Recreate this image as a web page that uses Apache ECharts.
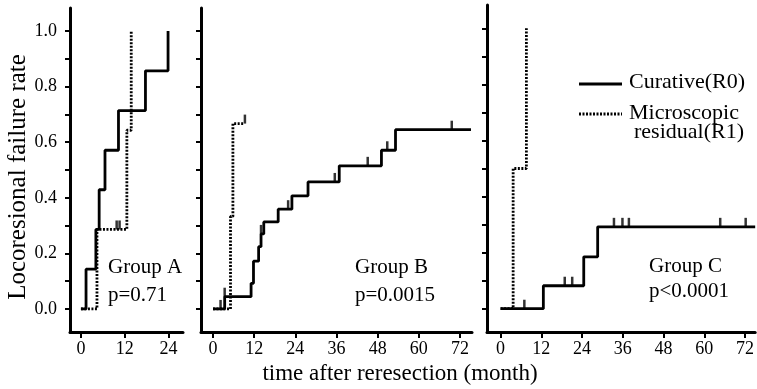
<!DOCTYPE html>
<html>
<head>
<meta charset="utf-8">
<script src="https://cdn.jsdelivr.net/npm/echarts@6/dist/echarts.min.js"></script>
<style>html,body{margin:0;padding:0;background:#fff}#c{width:757px;height:389px}</style>
</head>
<body>
<div id="c"></div>
<script>
// ---- data (months, failure rate) ----
const yTicks = [0, 0.1, 0.2, 0.3, 0.4, 0.5, 0.6, 0.7, 0.8, 0.9, 1.0];
const yLabels = [0, 0.2, 0.4, 0.6, 0.8, 1.0];
const xTicksA = [0, 12, 24];
const xTicksBC = [0, 12, 24, 36, 48, 60, 72];

// Group A
const aSolidT = [0, 1.4, 4.1, 5.0, 6.6, 10.3, 17.7, 23.9];
const aSolidV = [0, 0.143, 0.286, 0.429, 0.571, 0.714, 0.857, 1.0];
const aDotT = [0, 4.4, 12.6, 13.8];
const aDotV = [0, 0.286, 0.643, 1.0];
const aDotCensT = [9.8, 10.6];
const aDotCensV = [0.286, 0.286];

// Group B
const bSolidT = [0, 3.4, 11.1, 11.8, 13.3, 14.0, 14.8, 19.0, 23.0, 27.7, 36.8, 49.1, 53.2, 75.2];
const bSolidV = [0, 0.044, 0.092, 0.172, 0.224, 0.27, 0.313, 0.359, 0.407, 0.457, 0.515, 0.571, 0.645, 0.645];
const bSolidCensT = [2.2, 3.4, 14.0, 21.9, 35.5, 45.1, 50.8, 69.6];
const bSolidCensV = [0, 0.044, 0.27, 0.359, 0.457, 0.515, 0.571, 0.645];
const bDotT = [0, 5.1, 5.8, 8.8];
const bDotV = [0, 0.333, 0.667, 0.667];
const bDotCensT = [9.3];
const bDotCensV = [0.667];

// Group C
const cSolidT = [0, 12.6, 24.5, 28.6, 75];
const cSolidV = [0, 0.082, 0.185, 0.292, 0.292];
const cSolidCensT = [7.0, 18.9, 21.1, 33.4, 35.9, 37.8, 64.7, 72.2];
const cSolidCensV = [0, 0.082, 0.082, 0.292, 0.292, 0.292, 0.292, 0.292];
const cDotT = [0, 3.7, 7.6];
const cDotV = [0, 0.5, 1.0];

const groupText = [
  ['Group A', 'p=0.71'],
  ['Group B', 'p=0.0015'],
  ['Group C', 'p<0.0001']
];
const legendNames = ['Curative(R0)', 'Microscopic', 'residual(R1)'];
const xTitle = 'time after reresection (month)';
const yTitle = 'Locoresional failure rate';

// ---- chart ----
const FF = '"Liberation Serif", "Times New Roman", serif';
const zip = (t, v) => t.map((x, i) => [x, v[i]]);
const DOT = [2, 1.5];
const LW = 2.8;

function xAxis(idx, min, max, ticks) {
  return {
    type: 'value', gridIndex: idx, min: min, max: max,
    axisLine: {onZero: false, lineStyle: {color: '#000', width: 3}},
    axisTick: {customValues: ticks, length: 6, lineStyle: {color: '#000', width: 2}},
    axisLabel: {customValues: ticks, color: '#000', fontFamily: FF, fontSize: 18, margin: 8},
    splitLine: {show: false}
  };
}
function yAxis(idx, showLabel) {
  const a = {
    type: 'value', gridIndex: idx, min: -0.083, max: 1.083,
    axisLine: {onZero: false, lineStyle: {color: '#000', width: 3}},
    axisTick: {customValues: yTicks, length: 5, lineStyle: {color: '#000', width: 2}},
    axisLabel: {show: showLabel, customValues: yLabels, color: '#000', fontFamily: FF, fontSize: 18, margin: 13,
      formatter: v => v.toFixed(1)},
    splitLine: {show: false}
  };
  if (showLabel) {
    a.name = yTitle;
    a.nameLocation = 'middle';
    a.nameGap = 32;
    a.nameTextStyle = {color: '#000', fontFamily: FF, fontSize: 25, padding: [0, 14, 0, 0]};
  }
  return a;
}
function lineS(idx, t, v, dotted) {
  return {
    type: 'line', xAxisIndex: idx, yAxisIndex: idx, step: 'end', showSymbol: false, symbol: 'none',
    data: zip(t, v), silent: true, animation: false,
    lineStyle: {color: '#000', width: LW, type: dotted ? DOT : 'solid', cap: 'butt'}
  };
}
function censS(idx, t, v) {
  return {
    type: 'scatter', xAxisIndex: idx, yAxisIndex: idx, symbol: 'rect', symbolSize: [2.5, 9],
    symbolOffset: [0, -4.5], data: zip(t, v), itemStyle: {color: '#000'}, silent: true, animation: false
  };
}
function txt(x, y, s, size, align) {
  return {type: 'text', x: x, y: y, silent: true,
    style: {text: s, font: size + 'px ' + FF, fill: '#000', align: align || 'left', verticalAlign: 'middle'}};
}

const chart = echarts.init(document.getElementById('c'), null, {renderer: 'canvas'});
chart.setOption({
  animation: false,
  backgroundColor: '#fff',
  grid: [
    {left: 70, top: 8, width: 113, height: 324},
    {left: 201, top: 8, width: 271, height: 324},
    {left: 487, top: 5, width: 270, height: 327}
  ],
  xAxis: [xAxis(0, -3, 28, xTicksA), xAxis(1, -3.5, 75.5, xTicksBC), xAxis(2, -4, 75, xTicksBC)],
  yAxis: [yAxis(0, true), yAxis(1, false), yAxis(2, false)],
  series: [
    lineS(0, aDotT, aDotV, true),
    lineS(0, aSolidT, aSolidV, false),
    censS(0, aDotCensT, aDotCensV),
    lineS(1, bDotT, bDotV, true),
    lineS(1, bSolidT, bSolidV, false),
    censS(1, bSolidCensT, bSolidCensV),
    censS(1, bDotCensT, bDotCensV),
    lineS(2, cDotT, cDotV, true),
    lineS(2, cSolidT, cSolidV, false),
    censS(2, cSolidCensT, cSolidCensV)
  ],
  graphic: [
    txt(108, 267, groupText[0][0], 21), txt(108, 295, groupText[0][1], 21),
    txt(355, 267, groupText[1][0], 21), txt(355, 295, groupText[1][1], 21),
    txt(649, 266, groupText[2][0], 21), txt(649, 291, groupText[2][1], 21),
    {type: 'line', silent: true, shape: {x1: 579, y1: 84, x2: 622, y2: 84}, style: {stroke: '#000', lineWidth: LW}},
    {type: 'line', silent: true, shape: {x1: 579, y1: 114, x2: 622, y2: 114}, style: {stroke: '#000', lineWidth: LW, lineDash: DOT}},
    txt(629, 82, legendNames[0], 22), txt(629, 113, legendNames[1], 22), txt(634, 132, legendNames[2], 22),
    txt(400, 374, xTitle, 23, 'center')
  ]
});
</script>
</body>
</html>
